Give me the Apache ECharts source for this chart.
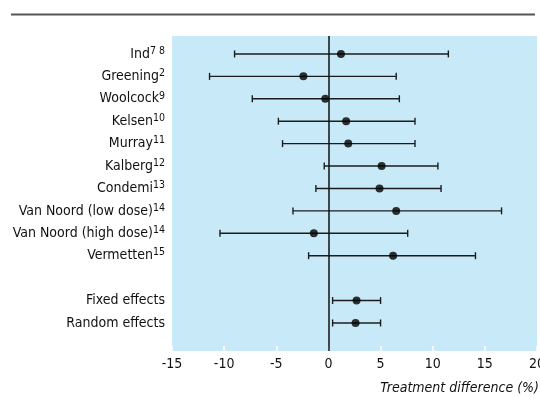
<!DOCTYPE html>
<html>
<head>
<meta charset="utf-8">
<script src="https://cdn.jsdelivr.net/npm/echarts@6/dist/echarts.min.js"></script>
<style>
  html, body { margin: 0; padding: 0; background: #fff; }
  #chart { width: 540px; height: 398px; }
</style>
</head>
<body>
<div id="chart"></div>
<script>
// studies, top to bottom (blank row separates the pooled estimates)
var studyNames = ['Ind', 'Greening', 'Woolcock', 'Kelsen', 'Murray', 'Kalberg', 'Condemi',
  'Van Noord (low dose)', 'Van Noord (high dose)', 'Vermetten', '', 'Fixed effects', 'Random effects'];
var studyRefs = ['7 8', '2', '9', '10', '11', '12', '13', '14', '14', '15', '', '', ''];
var estimates = [1.2, -2.4, -0.3, 1.7, 1.9, 5.1, 4.9, 6.5, -1.4, 6.2, null, 2.7, 2.6];
var lowerCI = [-9.0, -11.4, -7.3, -4.8, -4.4, -0.4, -1.2, -3.4, -10.4, -1.9, null, 0.4, 0.4];
var upperCI = [11.5, 6.5, 6.8, 8.3, 8.3, 10.5, 10.8, 16.6, 7.6, 14.1, null, 5.0, 5.0];
var xTicks = [-15, -10, -5, 0, 5, 10, 15, 20];

var font = '"Liberation Sans Narrow", "DejaVu Sans Condensed", "Liberation Sans", sans-serif';
var lineColor = '#1c1c1c';

var rows = [];
var barData = [];
var pointData = [];
studyNames.forEach(function (name, i) {
  if (name === '') return;
  rows.push(i);
  barData.push([i, lowerCI[i], upperCI[i]]);
  pointData.push([estimates[i], i]);
});

var myChart = echarts.init(document.getElementById('chart'));

myChart.setOption({
  animation: false,
  textStyle: { fontFamily: font },
  grid: {
    left: 172,
    right: 3,
    top: 36,
    bottom: 47,
    show: true,
    backgroundColor: '#c8e9f8',
    borderWidth: 0,
    outerBoundsMode: 'none',
    containLabel: false
  },
  title: {
    text: 'Treatment difference (%)',
    right: 1,
    top: 381,
    padding: 0,
    textStyle: { fontFamily: font, fontSize: 14, fontStyle: 'italic', fontWeight: 'normal', color: '#111' }
  },
  graphic: [{
    type: 'line',
    shape: { x1: 11, y1: 14.5, x2: 535, y2: 14.5 },
    style: { stroke: '#555', lineWidth: 2 }
  }],
  xAxis: {
    type: 'value',
    min: xTicks[0],
    max: xTicks[xTicks.length - 1],
    interval: 5,
    axisLine: { show: false, onZero: false },
    axisTick: { show: true, inside: true, length: 5, lineStyle: { color: '#fff', width: 1.5 } },
    splitLine: { show: false },
    axisLabel: { color: '#111', fontSize: 14, margin: 6, fontFamily: font }
  },
  yAxis: {
    type: 'value',
    inverse: true,
    min: -0.8,
    max: 13.25,
    axisLine: { show: false, onZero: false },
    axisTick: { show: false },
    splitLine: { show: false },
    axisLabel: {
      show: true,
      customValues: rows,
      margin: 7,
      formatter: function (v) {
        var i = Math.round(v);
        var s = studyRefs[i] ? '{s|' + studyRefs[i] + '}' : '';
        return '{n|' + studyNames[i] + '}' + s;
      },
      rich: {
        n: { fontSize: 14, color: '#111', fontFamily: font, lineHeight: 17 },
        s: { fontSize: 10.5, color: '#111', fontFamily: font, verticalAlign: 'top', lineHeight: 11 }
      }
    }
  },
  series: [{
    type: 'custom',
    data: barData,
    encode: { x: [1, 2], y: 0 },
    renderItem: function (params, api) {
      var row = api.value(0);
      var a = api.coord([api.value(1), row]);
      var b = api.coord([api.value(2), row]);
      var h = 3.5;
      var st = { stroke: lineColor, lineWidth: 1.4 };
      return {
        type: 'group',
        children: [
          { type: 'line', shape: { x1: a[0], y1: a[1], x2: b[0], y2: b[1] }, style: st },
          { type: 'line', shape: { x1: a[0], y1: a[1] - h, x2: a[0], y2: a[1] + h }, style: st },
          { type: 'line', shape: { x1: b[0], y1: b[1] - h, x2: b[0], y2: b[1] + h }, style: st }
        ]
      };
    },
    markLine: {
      silent: true,
      symbol: 'none',
      label: { show: false },
      lineStyle: { color: '#111', width: 1.5, type: 'solid' },
      data: [{ xAxis: 0 }]
    },
    z: 2
  }, {
    type: 'scatter',
    data: pointData,
    symbol: 'circle',
    symbolSize: 8,
    itemStyle: { color: '#000' },
    z: 3
  }]
});
</script>
</body>
</html>
